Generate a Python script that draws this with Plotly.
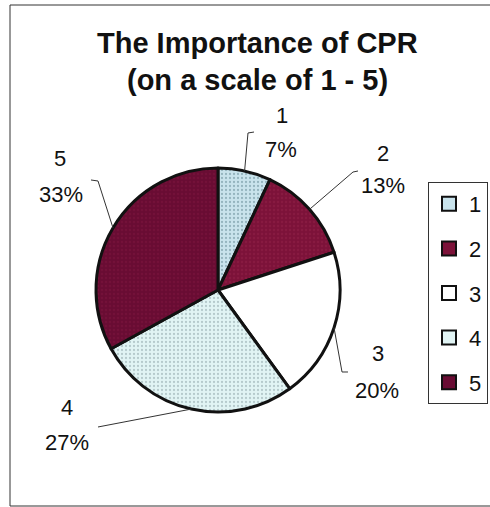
import math
import plotly.graph_objects as go

# data
categories = ['1', '2', '3', '4', '5']
percents = [7, 13, 20, 27, 33]
colors = ['#c9e3ec', '#7c1239', '#ffffff', '#e1f4f4', '#690c33']
patterns = ['.', '.', '', '.', '.']
pattern_colors = ['#5f8390', '#94214a', '#ffffff', '#8aa0a4', '#7e1640']

W, H = 490, 507
# pie placement (pixels)
CX, CY, R = 218, 290, 122

# label placement (pixels): name centre, percent centre, leader bends
label_name_pos = [(282, 115), (383, 153), (378, 353), (67, 407), (60, 158)]
label_pct_pos = [(281, 150), (383, 185), (377, 390), (67, 442), (61, 195)]
leader_bends = [[(248, 133), (254, 132)],
                [(353, 172), (358, 171)],
                [(342, 372), (348, 372)],
                [(98, 427)],
                [(98, 181), (91, 180)]]


def px(x, y):
    return x / W, 1 - y / H


FONT = 'Arial, Liberation Sans, sans-serif'

fig = go.Figure()

fig.add_trace(go.Pie(
    labels=categories,
    values=percents,
    sort=False,
    direction='clockwise',
    rotation=0,
    textinfo='none',
    hoverinfo='label+percent',
    showlegend=False,
    marker=dict(colors=colors,
                line=dict(color='#111111', width=3),
                pattern=dict(shape=patterns, fgcolor=pattern_colors, fillmode='overlay',
                             size=4, solidity=0.25)),
    domain=dict(x=[(CX - R) / W, (CX + R) / W], y=[1 - (CY + R) / H, 1 - (CY - R) / H]),
))

# legend entries
for cat, col in zip(categories, colors):
    fig.add_trace(go.Scatter(
        x=[None], y=[None], mode='markers', name=cat, legendgroup=cat,
        marker=dict(symbol='square', size=14, color=col, line=dict(color='#111111', width=2)),
    ))

annotations = []
shapes = []
total = sum(percents)
cum = 0
for i, v in enumerate(percents):
    mid = (cum + v / 2) / total * 2 * math.pi
    cum += v
    sx = CX + R * math.sin(mid)
    sy = CY - R * math.cos(mid)
    pts = [(sx, sy)] + leader_bends[i]
    path = 'M ' + ' L '.join('%.4f,%.4f' % px(x, y) for x, y in pts)
    shapes.append(dict(type='path', xref='paper', yref='paper', path=path,
                       line=dict(color='#333333', width=1)))
    nx, ny = px(*label_name_pos[i])
    annotations.append(dict(x=nx, y=ny, xref='paper', yref='paper', text=categories[i],
                            showarrow=False, xanchor='center', yanchor='middle',
                            font=dict(size=22, color='#111111', family=FONT)))
    qx, qy = px(*label_pct_pos[i])
    annotations.append(dict(x=qx, y=qy, xref='paper', yref='paper', text='%d%%' % v,
                            showarrow=False, xanchor='center', yanchor='middle',
                            font=dict(size=22, color='#111111', family=FONT)))

# title, two lines
for txt, ty in [('The Importance of CPR', 43), ('(on a scale of 1 - 5)', 80)]:
    tx, tyy = px(257, ty)
    annotations.append(dict(x=tx, y=tyy, xref='paper', yref='paper', text='<b>%s</b>' % txt,
                            showarrow=False, xanchor='center', yanchor='middle',
                            font=dict(size=29, color='#111111', family=FONT)))

# outer frame
x0, y0 = px(10, 5)
x1, y1 = px(496, 506)
shapes.append(dict(type='rect', xref='paper', yref='paper', x0=x0, y0=y1, x1=x1, y1=y0,
                   line=dict(color='#333333', width=1)))

lx, ly = px(488, 182)
fig.update_layout(
    width=W, height=H,
    autosize=False,
    margin=dict(l=0, r=0, t=0, b=0, pad=0),
    paper_bgcolor='white',
    plot_bgcolor='white',
    font=dict(family=FONT, color='#111111'),
    xaxis=dict(visible=False),
    yaxis=dict(visible=False),
    showlegend=True,
    legend=dict(x=lx, y=ly, xanchor='right', yanchor='top',
                bordercolor='#333333', borderwidth=1, bgcolor='white',
                font=dict(size=22, family=FONT), tracegroupgap=13,
                itemclick=False, itemdoubleclick=False),
    annotations=annotations,
    shapes=shapes,
)

fig.write_html('out.html', config={'displayModeBar': False},
               post_script="document.body.style.margin='0';document.body.style.overflow='hidden';")
